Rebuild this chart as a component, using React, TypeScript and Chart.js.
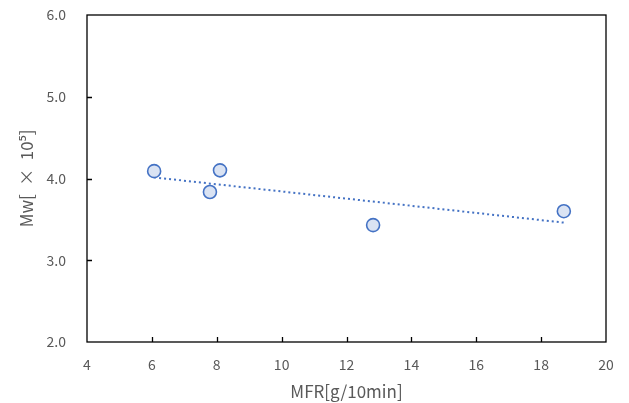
import React, { useEffect, useRef } from 'react';
import { Chart, registerables } from 'chart.js';

Chart.register(...registerables);

// Data
const mfr = [6.07, 7.79, 8.1, 12.82, 18.7];
const mw = [4.09, 3.835, 4.1, 3.43, 3.6];
const xTickValues = [4, 6, 8, 10, 12, 14, 16, 18, 20];
const yTickValues = [2.0, 3.0, 4.0, 5.0, 6.0];
const xTitle = 'MFR[g/10min]';
const yTitle = 'Mw[\u2002×\u200210⁵]';

const FONT = '"Noto Sans CJK JP", "Noto Sans", sans-serif';
const TEXT = '#595959';
const BLUE = '#4472C4';
const FILL = '#DAE3F3';

// Linear trendline (least squares) over the data, as in the spreadsheet chart
function trend(xs: number[], ys: number[]) {
  const n = xs.length;
  const mx = xs.reduce((a, b) => a + b, 0) / n;
  const my = ys.reduce((a, b) => a + b, 0) / n;
  let sxy = 0, sxx = 0;
  for (let i = 0; i < n; i++) {
    sxy += (xs[i] - mx) * (ys[i] - my);
    sxx += (xs[i] - mx) * (xs[i] - mx);
  }
  const slope = sxy / sxx;
  const icpt = my - slope * mx;
  const x0 = Math.min(...xs);
  const x1 = Math.max(...xs);
  return [
    { x: x0, y: icpt + slope * x0 },
    { x: x1, y: icpt + slope * x1 },
  ];
}

const framePlugin = {
  id: 'frameTicks',
  afterDraw(chart: any) {
    const { ctx, chartArea } = chart;
    const xs = chart.scales.x;
    const ys = chart.scales.y;
    ctx.save();
    ctx.strokeStyle = '#000';
    ctx.lineWidth = 1.3;
    ctx.strokeRect(chartArea.left, chartArea.top, chartArea.right - chartArea.left, chartArea.bottom - chartArea.top);
    ctx.beginPath();
    for (const v of xTickValues) {
      const px = Math.round(xs.getPixelForValue(v)) + 0.5;
      if (v === xTickValues[0] || v === xTickValues[xTickValues.length - 1]) continue;
      ctx.moveTo(px, chartArea.bottom);
      ctx.lineTo(px, chartArea.bottom - 5);
    }
    for (const v of yTickValues) {
      const py = Math.round(ys.getPixelForValue(v)) + 0.5;
      if (v === yTickValues[0] || v === yTickValues[yTickValues.length - 1]) continue;
      ctx.moveTo(chartArea.left, py);
      ctx.lineTo(chartArea.left + 5, py);
    }
    ctx.stroke();
    ctx.restore();
  },
};

export default function App() {
  const ref = useRef<HTMLCanvasElement>(null);
  useEffect(() => {
    document.body.style.margin = '0';
    if (!ref.current) return;
    const chart = new Chart(ref.current, {
      type: 'scatter',
      data: {
        datasets: [
          {
            label: 'Mw',
            data: mfr.map((x, i) => ({ x, y: mw[i] })),
            backgroundColor: FILL,
            borderColor: BLUE,
            borderWidth: 1.6,
            pointRadius: 6.5,
            pointHoverRadius: 6.5,
            order: 0,
          },
          {
            type: 'line',
            label: 'trend',
            data: trend(mfr, mw),
            borderColor: BLUE,
            borderWidth: 2,
            borderDash: [2, 3],
            borderCapStyle: 'butt',
            pointRadius: 0,
            fill: false,
            order: 1,
          } as any,
        ],
      },
      options: {
        responsive: false,
        animation: false,
        devicePixelRatio: 1,
        layout: { padding: { top: 15, right: 23, left: 0, bottom: 0 } },
        plugins: { legend: { display: false }, tooltip: { enabled: false } },
        scales: {
          x: {
            type: 'linear',
            min: 4,
            max: 20,
            afterBuildTicks: (s: any) => { s.ticks = xTickValues.map((v) => ({ value: v })); },
            afterFit: (s: any) => { s.height = 61; s.paddingLeft = 0; s.paddingRight = 0; },
            grid: { display: false, drawTicks: false },
            border: { display: false },
            ticks: {
              color: TEXT,
              font: { family: FONT, size: 14 },
              padding: 14,
              maxRotation: 0,
              callback: (v: any) => String(v),
            },
            title: {
              display: true,
              text: xTitle,
              color: TEXT,
              font: { family: FONT, size: 17 },
              padding: { top: 0, bottom: 1 },
            },
          },
          y: {
            type: 'linear',
            min: 2,
            max: 6,
            afterBuildTicks: (s: any) => { s.ticks = yTickValues.map((v) => ({ value: v })); },
            afterFit: (s: any) => { s.width = 87; s.paddingTop = 0; s.paddingBottom = 0; },
            grid: { display: false, drawTicks: false },
            border: { display: false },
            ticks: {
              color: TEXT,
              font: { family: FONT, size: 14 },
              padding: 21,
              callback: (v: any) => Number(v).toFixed(1),
            },
            title: {
              display: true,
              text: yTitle,
              color: TEXT,
              font: { family: FONT, size: 17 },
              padding: { top: 16, bottom: 0 },
            },
          },
        },
      },
      plugins: [framePlugin],
    });
    return () => chart.destroy();
  }, []);
  return (
    <div style={{ width: 629, height: 403, background: '#fff' }}>
      <canvas ref={ref} width={629} height={403} style={{ display: 'block' }} />
    </div>
  );
}
